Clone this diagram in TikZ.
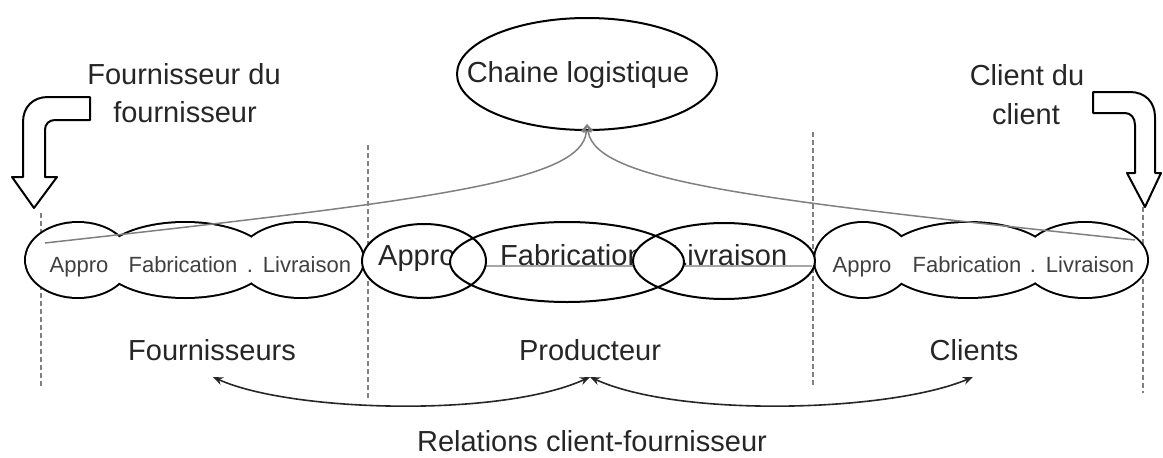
\documentclass[tikz,border=0pt]{standalone}
\usepackage{fontspec}
\setmainfont{Liberation Sans}
\usetikzlibrary{shapes.geometric,arrows.meta}

\begin{document}
\begin{tikzpicture}[x=1pt,y=-1pt,
  big/.style={font=\fontsize{29}{34}\selectfont, text=black!85, inner sep=0pt},
  small/.style={font=\fontsize{22}{26}\selectfont, text=black!75, inner sep=0pt},
  outline/.style={draw=black, line width=2pt},
  divider/.style={draw=black!50, line width=1.4pt, dash pattern=on 5pt off 3pt},
  link/.style={draw=black!50, line width=1.5pt, -{Triangle[open, length=8pt, width=11pt]}},
  relation/.style={draw=black!85, line width=1.6pt, {Stealth[length=10pt,width=8pt]}-{Stealth[length=10pt,width=8pt]}},
  bigarrow/.style={draw=black, line width=2pt, fill=white, line join=round},
]
\useasboundingbox (0,0) rectangle (1163,458);

% vertical separators between the three actors
\coordinate (d1t) at (41,213);   \coordinate (d1b) at (41,387);
\coordinate (d2t) at (368,145);  \coordinate (d2b) at (368,398);
\coordinate (d3t) at (813,132);  \coordinate (d3b) at (813,388);
\coordinate (d4t) at (1143,207); \coordinate (d4b) at (1143,393);
\draw[divider] (d1t) -- (d1b);
\draw[divider] (d2t) -- (d2b);
\draw[divider] (d3t) -- (d3b);
\draw[divider] (d4t) -- (d4b);

% supplier chain: outline of the union of three ellipses
\draw[line width=4pt] (78,260) ellipse [x radius=52, y radius=37]
                      (185,260) ellipse [x radius=83, y radius=37]
                      (301,260) ellipse [x radius=62, y radius=37];
\fill[white] (78,260) ellipse [x radius=52, y radius=37]
             (185,260) ellipse [x radius=83, y radius=37]
             (301,260) ellipse [x radius=62, y radius=37];
\node[small, anchor=base] (fa) at (79,272) {Appro};
\node[small, anchor=base] (ff) at (183,272) {Fabrication};
\node[small, anchor=base] (fd) at (250,272) {.};
\node[small, anchor=base] (fl) at (307,272) {Livraison};

% customer chain
\draw[line width=4pt] (863,260) ellipse [x radius=48, y radius=37]
                      (968,260) ellipse [x radius=84, y radius=37]
                      (1085,260) ellipse [x radius=62, y radius=37];
\fill[white] (863,260) ellipse [x radius=48, y radius=37]
             (968,260) ellipse [x radius=84, y radius=37]
             (1085,260) ellipse [x radius=62, y radius=37];
\node[small, anchor=base] (ca) at (862,272) {Appro};
\node[small, anchor=base] (cf) at (967,272) {Fabrication};
\node[small, anchor=base] (cd) at (1033,272) {.};
\node[small, anchor=base] (cl) at (1090,272) {Livraison};

% producer: three overlapping ellipses
\fill[white] (424,261) ellipse [x radius=62, y radius=37];
\fill[white] (567,262) ellipse [x radius=117, y radius=40];
\fill[white] (724,261) ellipse [x radius=91, y radius=38];
\draw[black!35, line width=1.5pt] (450,266) -- (812,266);
\node[big, anchor=base west] (pa) at (378,265) {Appro};
\node[big, anchor=base west] (pf) at (500,265) {Fabrication};
\node[big, anchor=base west] (pl) at (671,265) {Livraison};
\begin{scope}
  \clip (424,261) ellipse [x radius=62, y radius=37];
  \fill[white] (567,262) ellipse [x radius=117, y radius=40];
\end{scope}
\begin{scope}
  \clip (567,262) ellipse [x radius=117, y radius=40];
  \fill[white] (724,261) ellipse [x radius=91, y radius=38];
\end{scope}
\draw[outline] (424,261) ellipse [x radius=62, y radius=37];
\draw[outline] (567,262) ellipse [x radius=117, y radius=40];
\draw[outline] (724,261) ellipse [x radius=91, y radius=38];

% supply chain as a whole
\node[ellipse, outline, minimum width=260pt, minimum height=112pt, inner sep=0pt] (chain) at (587,74) {};
\node[big, anchor=base] (chainlbl) at (578,82) {Chaine logistique};

\coordinate (lsrc) at (45,243);
\coordinate (rsrc) at (1135,240);
\draw[link] (lsrc) .. controls (430,200) and (582,182) .. ([yshift=7pt]chain.south);
\draw[link] (rsrc) .. controls (760,200) and (596,182) .. ([yshift=7pt]chain.south);

% upstream and downstream extensions
\node[big, anchor=base] (ffa) at (184,84) {Fournisseur du};
\node[big, anchor=base] (ffb) at (185,122) {fournisseur};
\draw[bigarrow] (90,97) -- (48,97) .. controls (33,97) and (23,107) .. (23,122)
  -- (23,177) -- (12,177) -- (34,208) -- (57,177) -- (45,177) -- (45,130)
  .. controls (45,124) and (49,120) .. (55,120) -- (90,120) -- cycle;

\node[big, anchor=base] (cca) at (1027,85) {Client du};
\node[big, anchor=base] (ccb) at (1026,124) {client};
\draw[bigarrow] (1093,92) -- (1130,92) .. controls (1145,92) and (1155,102) .. (1155,117)
  -- (1155,173) -- (1161,173) -- (1145,207) -- (1127,173) -- (1135,173) -- (1135,125)
  .. controls (1135,118) and (1131,113) .. (1125,113) -- (1093,113) -- cycle;

% actors and their relations
\node[big, anchor=base] (fourn) at (212,360) {Fournisseurs};
\node[big, anchor=base] (prod) at (590,360) {Producteur};
\node[big, anchor=base] (cli) at (974,360) {Clients};
\node[big, anchor=base] (rel) at (592,451) {Relations client-fournisseur};

\coordinate (relF) at (213,377);
\coordinate (relP) at (590,377);
\coordinate (relC) at (973,377);
\draw[relation] (relP) .. controls (500,418) and (290,412) .. (relF);
\draw[relation] (relP) .. controls (680,418) and (890,412) .. (relC);
\end{tikzpicture}
\end{document}
